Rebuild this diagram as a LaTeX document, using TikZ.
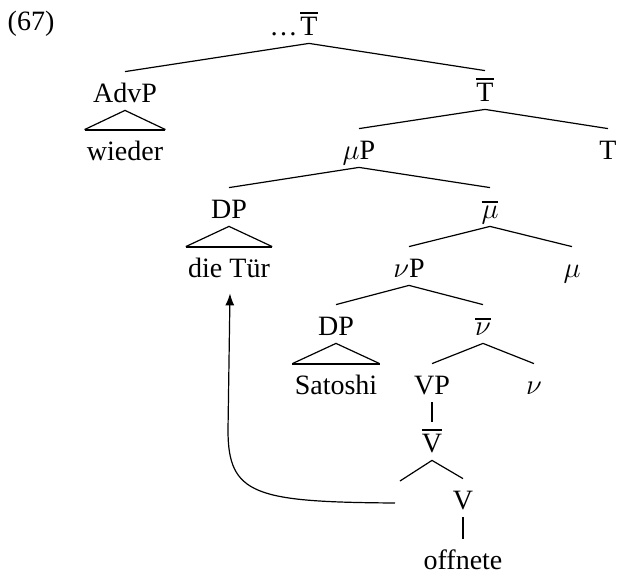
\documentclass[tikz,border=0pt]{standalone}
\usepackage{fontspec}
\setmainfont{Liberation Serif}
\usetikzlibrary{arrows.meta}
\newcommand{\mybar}[1]{\vbox{\hrule height 1pt\kern 1.4pt\hbox{#1}}}
\tikzset{
  lab/.style={anchor=base, inner xsep=0pt, inner ysep=4pt, text height=11pt, text depth=0pt},
  leaf/.style={lab, inner xsep=1pt},
  branch/.style={line width=0.6pt},
  unary/.style={line width=1pt},
  tribase/.style={line width=1.1pt},
  movearrow/.style={line width=0.6pt, -{Latex[length=6pt,width=4.5pt]}}
}
\begin{document}
\begin{tikzpicture}[x=0.5pt, y=-0.5pt, font=\fontsize{14}{16}\selectfont]
\useasboundingbox (0,0) rectangle (617,574);
% nodes
\node[anchor=base, inner sep=0pt] (ex) at (31,30) {(67)};
\node[lab] (top) at (309,35) {\mybar{T}};
\node[anchor=base east, inner sep=0pt] (dots) at ([xshift=-1pt]top.base west) {\dots};
\node[lab] (advp) at (125,102) {AdvP};
\node[leaf] (wieder) at (125,160) {wieder};
\node[lab] (tbar) at (485,101) {\mybar{T}};
\node[lab] (mup) at (359,159) {$\mu$P};
\node[lab] (tt) at (608,159) {T};
\node[lab] (dp1) at (229,218) {DP};
\node[leaf] (dietur) at (229,277) {die Tür};
\node[lab] (mubar) at (490,218) {\mybar{$\mu$}};
\node[lab] (nup) at (409,277) {$\nu$P};
\node[lab] (mu) at (572,277) {$\mu$};
\node[lab] (dp2) at (336,335) {DP};
\node[leaf] (satoshi) at (336,394) {Satoshi};
\node[lab] (nubar) at (483,335) {\mybar{$\nu$}};
\node[lab] (vp) at (432,394) {VP};
\node[lab] (nu) at (534,394) {$\nu$};
\node[lab] (vbar) at (432,452) {\mybar{V}};
\coordinate (trace) at (400,481);
\node[lab] (v) at (463,509) {V};
\node[lab] (offnete) at (463,569) {offnete};
\coordinate (tstart) at (395,503);
% branches
\draw[branch] (advp.north) -- (top.south) -- (tbar.north);
\draw[branch] (mup.north) -- (tbar.south) -- (tt.north);
\draw[branch] (dp1.north) -- (mup.south) -- (mubar.north);
\draw[branch] (nup.north) -- (mubar.south) -- (mu.north);
\draw[branch] (dp2.north) -- (nup.south) -- (nubar.north);
\draw[branch] (vp.north) -- (nubar.south) -- (nu.north);
\draw[branch] (trace) -- (vbar.south) -- (v.north);
\draw[unary] (vp.south) -- (vbar.north);
\draw[unary] (v.south) -- (offnete.north);
% triangles
\draw[branch] (wieder.north west) -- (advp.south) -- (wieder.north east);
\draw[tribase] (wieder.north west) -- (wieder.north east);
\draw[branch] (dietur.north west) -- (dp1.south) -- (dietur.north east);
\draw[tribase] (dietur.north west) -- (dietur.north east);
\draw[branch] (satoshi.north west) -- (dp2.south) -- (satoshi.north east);
\draw[tribase] (satoshi.north west) -- (satoshi.north east);
% movement arrow
\draw[movearrow] (tstart) .. controls (255,502) and (228,495) .. (228,430) -- ([xshift=0.5pt,yshift=-4pt]dietur.south);
\end{tikzpicture}
\end{document}
